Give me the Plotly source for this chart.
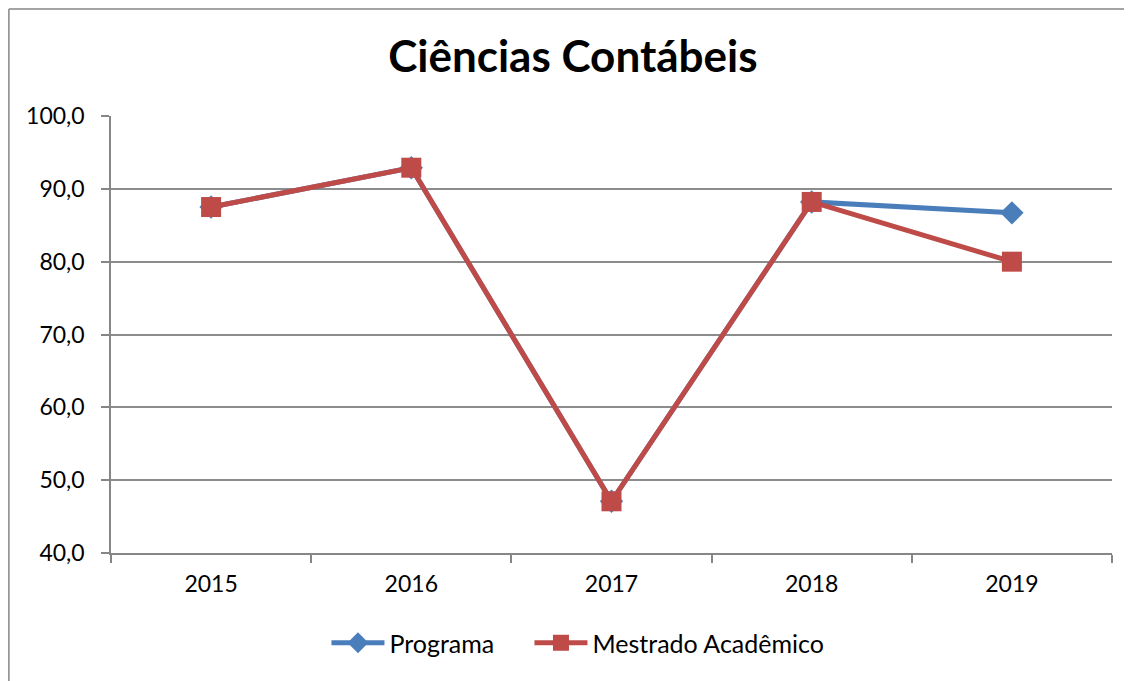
import plotly.graph_objects as go

years = ["2015", "2016", "2017", "2018", "2019"]
programa = [87.5, 92.9, 47.1, 88.2, 86.7]
mestrado = [87.5, 92.9, 47.1, 88.2, 80.0]
y_ticks = [40, 50, 60, 70, 80, 90, 100]
y_tick_labels = ["40,0", "50,0", "60,0", "70,0", "80,0", "90,0", "100,0"]

fig = go.Figure()
fig.add_trace(go.Scatter(
    x=years, y=programa, name="Programa", mode="lines+markers",
    line=dict(color="#4A7EBB", width=5),
    marker=dict(symbol="diamond", size=18, color="#4A7EBB"),
    legendwidth=135,
))
fig.add_trace(go.Scatter(
    x=years, y=mestrado, name="Mestrado Acadêmico", mode="lines+markers",
    line=dict(color="#BE4B48", width=5),
    marker=dict(symbol="square", size=20, color="#BE4B48"),
))

fig.update_layout(
    width=1132, height=681,
    paper_bgcolor="white", plot_bgcolor="white",
    margin=dict(l=103, r=28, t=108, b=136),
    font=dict(family="Lato, Open Sans, sans-serif", size=23, color="#000000"),
    title=dict(text="<b>Ciências Contábeis</b>", x=0.499, xanchor="center",
               y=0.928, yanchor="middle", font=dict(size=44, color="#000000")),
    showlegend=True,
    legend=dict(orientation="h", x=0.4665, xanchor="center", y=-0.206, yanchor="middle",
                font=dict(size=25), tracegroupgap=0, itemwidth=53),
    xaxis=dict(
        type="category", showgrid=False, showline=True, linecolor="#868686", linewidth=1.5,
        ticks="outside", tickson="boundaries", ticklen=8, tickcolor="#868686", tickwidth=1.5,
        tickfont=dict(size=23), range=[-0.5, 4.5], ticklabelstandoff=10,
    ),
    yaxis=dict(
        range=[40, 100], tickvals=y_ticks, ticktext=y_tick_labels,
        showgrid=True, gridcolor="#8C8C8C", gridwidth=1.5,
        showline=True, linecolor="#868686", linewidth=1.5,
        ticks="outside", ticklen=8, tickcolor="#868686", tickwidth=1.5,
        tickfont=dict(size=23), zeroline=False, ticklabelstandoff=12,
    ),
    shapes=[
        dict(type="line", xref="paper", yref="paper", x0=-0.102, x1=1.05, y0=1.245, y1=1.245,
             line=dict(color="#868686", width=1.5)),
        dict(type="line", xref="paper", yref="paper", x0=-0.102, x1=-0.102, y0=1.245, y1=-0.35,
             line=dict(color="#868686", width=1.5)),
    ],
)

fig.write_html("out.html")
